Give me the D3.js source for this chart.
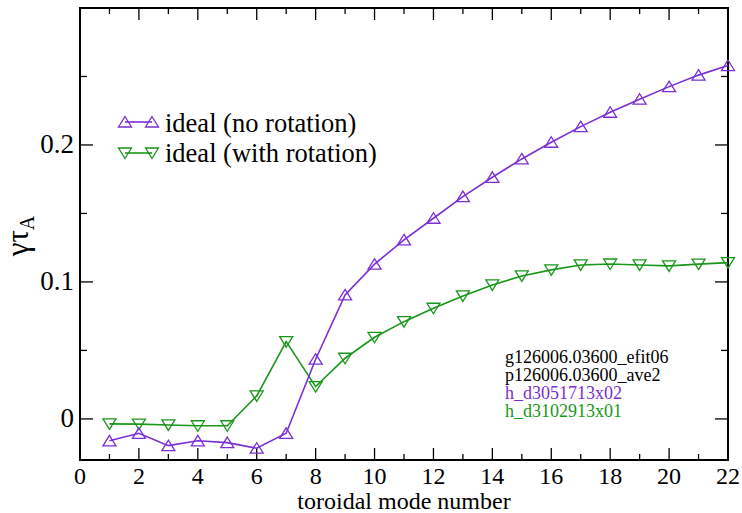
<!DOCTYPE html>
<html>
<head>
<meta charset="utf-8">
<script src="https://cdn.jsdelivr.net/npm/d3@7"></script>
</head>
<body style="margin:0">
<svg width="742" height="513"></svg>
<script>
// Toroidal mode numbers
const modeNumbers = [1, 2, 3, 4, 5, 6, 7, 8, 9, 10, 11, 12, 13, 14, 15, 16, 17, 18, 19, 20, 21, 22];

// Growth rate (gamma * tau_A), ideal case without rotation
const noRotation = [-0.016, -0.0105, -0.0195, -0.016, -0.0173, -0.0214, -0.0105, 0.0436, 0.0905, 0.113,
  0.1307, 0.1465, 0.1623, 0.1764, 0.1898, 0.202, 0.2134, 0.2239, 0.2334, 0.2426, 0.251, 0.258];

// Growth rate, ideal case with rotation
const withRotation = [-0.0036, -0.0038, -0.0044, -0.005, -0.005, 0.0168, 0.0564, 0.0236, 0.0443, 0.0596,
  0.071, 0.0808, 0.0898, 0.0978, 0.1044, 0.1088, 0.1124, 0.1131, 0.1124, 0.1117, 0.113, 0.1141];

const xTicks = [0, 2, 4, 6, 8, 10, 12, 14, 16, 18, 20, 22];
const yTicks = [0, 0.1, 0.2];
const seriesNames = ["ideal (no rotation)", "ideal (with rotation)"];
const fileNotes = ["g126006.03600_efit06", "p126006.03600_ave2", "h_d3051713x02", "h_d3102913x01"];

const purple = "#7b2fd4";
const green = "#1a971a";

const svg = d3.select("svg");
const m = { left: 80, right: 728, top: 8, bottom: 460 };

const x = d3.scaleLinear().domain([0, 22]).range([m.left, m.right]);
const y = d3.scaleLinear().domain([-0.03, 0.3]).range([m.bottom, m.top]);

// Serif face for every label
const txt = sel => sel
  .attr("font-family", "Liberation Serif")
  .style("font-family", "\"Liberation Serif\"", "important");

// Frame
svg.append("rect")
  .attr("x", m.left).attr("y", m.top)
  .attr("width", m.right - m.left).attr("height", m.bottom - m.top)
  .attr("fill", "none").attr("stroke", "#000").attr("stroke-width", 2);

// Inward ticks on all four sides
const xMinor = d3.range(0, 23, 1);
const yMinor = d3.range(0, 0.31, 0.05).map(v => +v.toFixed(2));
const isMajorX = v => v % 2 === 0;
const isMajorY = v => Math.abs(v * 10 - Math.round(v * 10)) < 1e-6;

const ticks = svg.append("g").attr("stroke", "#000").attr("stroke-width", 1.3);
xMinor.forEach(v => {
  const len = isMajorX(v) ? 12 : 6;
  ticks.append("line").attr("x1", x(v)).attr("x2", x(v)).attr("y1", m.bottom).attr("y2", m.bottom - len);
  ticks.append("line").attr("x1", x(v)).attr("x2", x(v)).attr("y1", m.top).attr("y2", m.top + len);
});
yMinor.forEach(v => {
  const len = isMajorY(v) ? 13 : 7;
  ticks.append("line").attr("y1", y(v)).attr("y2", y(v)).attr("x1", m.left).attr("x2", m.left + len);
  ticks.append("line").attr("y1", y(v)).attr("y2", y(v)).attr("x1", m.right).attr("x2", m.right - len);
});

// Tick labels
svg.append("g").selectAll("text").data(xTicks).join("text")
  .attr("x", d => x(d)).attr("y", 483.5)
  .attr("text-anchor", "middle").attr("font-size", 24)
  .call(txt)
  .text(d => d);
svg.append("g").selectAll("text").data(yTicks).join("text")
  .attr("x", 74).attr("y", d => y(d) + 8.5)
  .attr("text-anchor", "end").attr("font-size", 27)
  .call(txt)
  .text(d => d === 0 ? "0" : d3.format(".1f")(d));

// Axis titles
svg.append("text")
  .attr("x", (m.left + m.right) / 2).attr("y", 509)
  .attr("text-anchor", "middle").attr("font-size", 24)
  .call(txt)
  .text("toroidal mode number");

const yTitle = svg.append("text")
  .attr("transform", "translate(28,236) rotate(-90)")
  .attr("text-anchor", "middle").attr("font-size", 31)
  .call(txt);
yTitle.append("tspan").text("γτ");
yTitle.append("tspan").attr("font-size", 20).attr("dy", 6).text("A");

// Markers
const upTri = "M0,-5.5L6.5,5L-6.5,5Z";
const downTri = "M0,5.5L6.5,-5L-6.5,-5Z";

const line = d3.line().x((d, i) => x(modeNumbers[i])).y(d => y(d));

function drawSeries(values, color, shape) {
  svg.append("path").datum(values)
    .attr("d", line).attr("fill", "none")
    .attr("stroke", color).attr("stroke-width", 1.6);
  svg.append("g").selectAll("path").data(values).join("path")
    .attr("transform", (d, i) => `translate(${x(modeNumbers[i])},${y(d)})`)
    .attr("d", shape).attr("fill", "none")
    .attr("stroke", color).attr("stroke-width", 1.3);
}
drawSeries(withRotation, green, downTri);
drawSeries(noRotation, purple, upTri);

// Legend
const legend = [
  { name: seriesNames[0], color: purple, shape: upTri, cy: 122, ty: 131.5 },
  { name: seriesNames[1], color: green, shape: downTri, cy: 153, ty: 161.5 }
];
legend.forEach(l => {
  svg.append("line").attr("x1", 125).attr("x2", 152).attr("y1", l.cy).attr("y2", l.cy)
    .attr("stroke", l.color).attr("stroke-width", 1.6);
  [125, 152].forEach(px => svg.append("path")
    .attr("transform", `translate(${px},${l.cy})`)
    .attr("d", l.shape).attr("fill", "none").attr("stroke", l.color).attr("stroke-width", 1.3));
  svg.append("text").attr("x", 165).attr("y", l.ty).attr("font-size", 26.5)
    .call(txt).text(l.name);
});

// Source file notes
const noteColors = ["#000", "#000", purple, green];
svg.append("g").selectAll("text").data(fileNotes).join("text")
  .attr("x", 505).attr("y", (d, i) => 363 + i * 17.9)
  .attr("font-size", 18).attr("fill", (d, i) => noteColors[i])
  .call(txt)
  .text(d => d);
</script>
</body>
</html>
